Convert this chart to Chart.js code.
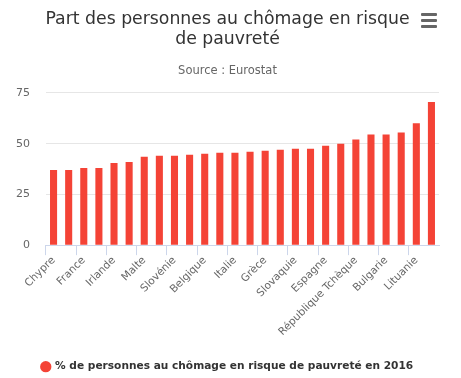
<!DOCTYPE html>
<html>
<head>
<meta charset="utf-8">
<script src="https://cdn.jsdelivr.net/npm/chart.js@4/dist/chart.umd.min.js"></script>
<style>
html,body{margin:0;padding:0;background:#fff;}
#wrap{position:relative;width:461px;height:378px;}
#menu{position:absolute;left:421px;top:13px;width:16px;}
#menu div{height:2.5px;background:#666;margin-bottom:3.5px;border-radius:1px;}
</style>
</head>
<body>
<div id="wrap">
<canvas id="c" width="461" height="378"></canvas>
<div id="menu"><div></div><div></div><div></div></div>
</div>
<script>
const categories = ["Chypre","Finlande","France","Danemark","Irlande","Pays-Bas","Malte","Autriche","Slovénie","Luxembourg","Belgique","Portugal","Italie","Pologne","Grèce","Croatie","Slovaquie","Hongrie","Espagne","Roumanie","République Tchèque","Royaume-Uni","Bulgarie","Estonie","Lituanie","Allemagne"];
const values = [37,37,38,38,40.5,41,43.5,44,44,44.5,45,45.5,45.5,46,46.5,47,47.5,47.5,49,50,52,54.5,54.5,55.5,60,70.5];
const seriesName = "% de personnes au chômage en risque de pauvreté en 2016";
const titleLines = ["Part des personnes au chômage en risque","de pauvreté"];
const subtitleText = "Source : Eurostat";
const yTicks = [0,25,50,75];

const FONT = "'DejaVu Sans', Verdana, sans-serif";

const shiftLegend = {
  id: 'shiftLegend',
  afterLayout(chart) {
    const lg = chart.legend;
    if (lg) {
      lg.top += 4; lg.bottom += 4;
      if (lg.legendHitBoxes) lg.legendHitBoxes.forEach(b => { b.top += 4; });
    }
  }
};

new Chart(document.getElementById('c'), {
  type: 'bar',
  data: {
    labels: categories,
    datasets: [{
      label: seriesName,
      data: values,
      backgroundColor: '#f44336',
      borderWidth: 0,
      categoryPercentage: 0.6,
      barPercentage: 0.78
    }]
  },
  plugins: [shiftLegend],
  options: {
    responsive: false,
    animation: false,
    devicePixelRatio: 1,
    layout: { padding: { left: 0, right: 6, top: 0, bottom: 0 } },
    plugins: {
      title: {
        display: true,
        text: titleLines,
        color: '#333333',
        font: { family: FONT, size: 17.3, weight: 'normal', lineHeight: 1.16 },
        padding: { top: 9, bottom: 11 }
      },
      subtitle: {
        display: true,
        text: subtitleText,
        color: '#666666',
        font: { family: FONT, size: 11.5, weight: 'normal' },
        padding: { top: 4, bottom: 15 }
      },
      legend: {
        position: 'bottom',
        labels: {
          usePointStyle: true,
          pointStyle: 'circle',
          boxWidth: 8,
          boxHeight: 8,
          color: '#333333',
          font: { family: FONT, size: 10.6, weight: 'bold' },
          padding: 2
        }
      },
      tooltip: { enabled: false }
    },
    scales: {
      x: {
        grid: {
          drawOnChartArea: false,
          drawTicks: true,
          tickLength: 10,
          tickColor: (ctx) => (ctx.index % 2 === 0 ? '#ccd6eb' : 'rgba(0,0,0,0)'),
          color: '#ccd6eb'
        },
        border: { color: '#ccd6eb', width: 1 },
        afterFit: (axis) => { axis.height += 18; },
        ticks: {
          autoSkip: false,
          minRotation: 45,
          maxRotation: 45,
          color: '#666666',
          font: { family: FONT, size: 10.6 },
          padding: -1,
          callback: function(v, i) { return i % 2 === 0 ? this.getLabelForValue(v) : ''; }
        }
      },
      y: {
        min: 0,
        max: 75,
        afterBuildTicks: (axis) => { axis.ticks = yTicks.map(v => ({ value: v })); },
        grid: { color: '#e6e6e6', drawTicks: false },
        border: { display: false },
        ticks: {
          color: '#666666',
          font: { family: FONT, size: 11 },
          padding: 16
        }
      },
      yRight: {
        position: 'right',
        display: true,
        min: 0,
        max: 75,
        grid: { drawOnChartArea: false, drawTicks: false },
        border: { display: false },
        ticks: { display: false },
        afterFit: (axis) => { axis.width = 16; }
      }
    }
  }
});
</script>
</body>
</html>
